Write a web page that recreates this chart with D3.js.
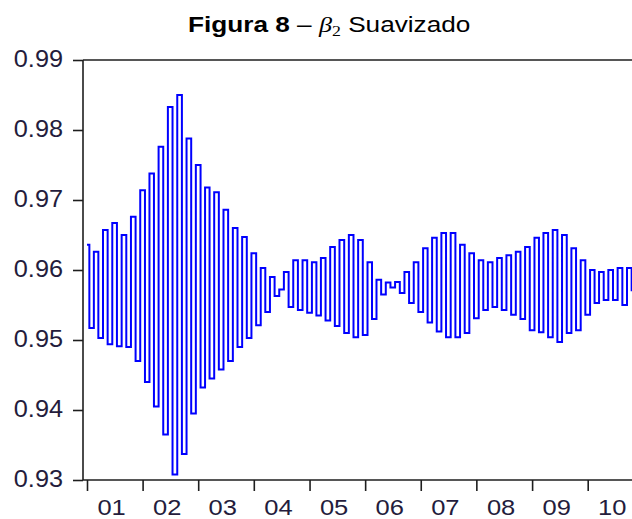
<!DOCTYPE html>
<html><head><meta charset="utf-8">
<script src="https://cdn.jsdelivr.net/npm/d3@7"></script>
<style>body{margin:0;background:#fff}svg{display:block}</style>
</head><body>
<svg id="c" width="632" height="519"></svg>
<script>
// ---- data (monthly, starting Jan 2001) ----
const startYear = 2001;
const values = [
 0.9636,0.9517,0.9626,0.9503,0.9657,0.9494,0.9667,0.9491,0.9650,0.9490,
 0.9676,0.9470,0.9714,0.9440,0.9738,0.9405,0.9776,0.9365,0.9833,0.9308,
 0.9850,0.9337,0.9788,0.9395,0.9750,0.9432,0.9718,0.9445,0.9711,0.9458,
 0.9686,0.9470,0.9660,0.9490,0.9647,0.9503,0.9624,0.9521,0.9603,0.9540,
 0.9590,0.9563,0.9572,0.9597,0.9547,0.9614,0.9543,0.9614,0.9539,0.9611,
 0.9535,0.9617,0.9528,0.9633,0.9520,0.9643,0.9510,0.9650,0.9504,0.9643,
 0.9507,0.9611,0.9530,0.9586,0.9565,0.9582,0.9575,0.9583,0.9567,0.9597,
 0.9553,0.9611,0.9540,0.9631,0.9525,0.9646,0.9512,0.9653,0.9504,0.9653,
 0.9504,0.9636,0.9510,0.9624,0.9531,0.9614,0.9543,0.9611,0.9547,0.9617,
 0.9543,0.9621,0.9536,0.9626,0.9530,0.9633,0.9514,0.9646,0.9511,0.9653,
 0.9504,0.9657,0.9497,0.9650,0.9510,0.9631,0.9514,0.9614,0.9536,0.9600,
 0.9553,0.9597,0.9557,0.9600,0.9557,0.9603,0.9550,0.9603,0.9571
];
const yTicks = [0.93,0.94,0.95,0.96,0.97,0.98,0.99];
const years = [2001,2002,2003,2004,2005,2006,2007,2008,2009,2010];
const yearLabels = ["01","02","03","04","05","06","07","08","09","10"];
const titleBold = "Figura 8";
const titleDash = " \u2013 ";
const titleSym = "\u03B2";
const titleSub = "2";
const titleRest = " Suavizado";

// ---- drawing ----
const svg = d3.select("#c");
const axisColor = "#1e1e1e";
const textColor = "#241c3c";
const plotLeft = 83, plotTop = 60, plotBottom = 480;

const x = d3.scaleTime()
  .domain([new Date(2001,0,1), new Date(2011,0,1)])
  .range([87, 643.3]);
const y = d3.scaleLinear().domain([0.93,0.99]).range([plotBottom, plotTop]);

const dates = d3.timeMonth.range(new Date(startYear,0,1), new Date(startYear+10,0,1)).slice(0, values.length);
const data = values.map((v,i)=>({d:dates[i], v}));

// series
svg.append("path")
  .datum(data)
  .attr("fill","none")
  .attr("stroke","#0000ff")
  .attr("stroke-width",2)
  .attr("stroke-linejoin","miter")
  .attr("d", d3.line().curve(d3.curveStep).x(p=>x(p.d)).y(p=>y(p.v)));

// frame lines
svg.append("line").attr("x1",plotLeft).attr("x2",632).attr("y1",plotTop).attr("y2",plotTop)
  .attr("stroke",axisColor).attr("stroke-width",1.6);
svg.append("line").attr("x1",plotLeft).attr("x2",632).attr("y1",plotBottom).attr("y2",plotBottom)
  .attr("stroke",axisColor).attr("stroke-width",1.6);
svg.append("line").attr("x1",plotLeft).attr("x2",plotLeft).attr("y1",plotTop).attr("y2",plotBottom)
  .attr("stroke",axisColor).attr("stroke-width",1.6);

// left axis
const sxLab = 1.1;
const gy = svg.append("g").attr("transform",`translate(${plotLeft},0)`)
  .call(d3.axisLeft(y).tickValues(yTicks).tickSize(10).tickPadding(10).tickFormat(d3.format(".2f")));
gy.select(".domain").remove();
gy.selectAll(".tick line").attr("stroke",axisColor).attr("stroke-width",1.6);
gy.selectAll(".tick text")
  .attr("font-family","'Liberation Sans', Arial, sans-serif")
  .attr("font-size",23)
  .attr("fill",textColor)
  .attr("x",-20/sxLab)
  .attr("dy","0.28em")
  .attr("transform",`scale(${sxLab},1)`);

// bottom axis
const gx = svg.append("g").attr("transform",`translate(0,${plotBottom})`)
  .call(d3.axisBottom(x).tickValues(years.map(yr=>new Date(yr,0,1))).tickSize(11).tickFormat(""));
gx.select(".domain").remove();
gx.selectAll(".tick line").attr("stroke",axisColor).attr("stroke-width",1.6);

years.forEach((yr,i)=>{
  const cx = x(new Date(yr,6,1)) - 3;
  svg.append("g").attr("transform",`translate(${cx},514.5) scale(1.16,1)`)
    .append("text")
    .attr("text-anchor","middle")
    .attr("font-family","'Liberation Sans', Arial, sans-serif")
    .attr("font-size",22)
    .attr("fill",textColor)
    .text(yearLabels[i]);
});

// title
const t = svg.append("g").attr("transform","translate(188,32) scale(1.19,1)")
  .append("text")
  .attr("font-family","'Liberation Sans', Arial, sans-serif")
  .attr("font-size",22)
  .attr("fill","#000");
t.append("tspan").attr("font-weight","bold").text(titleBold);
t.append("tspan").text(titleDash);
t.append("tspan").attr("font-family","'Liberation Serif', 'DejaVu Serif', serif").attr("font-style","italic").text(titleSym);
t.append("tspan").attr("font-size",15).attr("dy",4).attr("font-family","'Liberation Serif', serif").text(titleSub);
t.append("tspan").attr("dy",-4).text(titleRest);
</script>
</body></html>
